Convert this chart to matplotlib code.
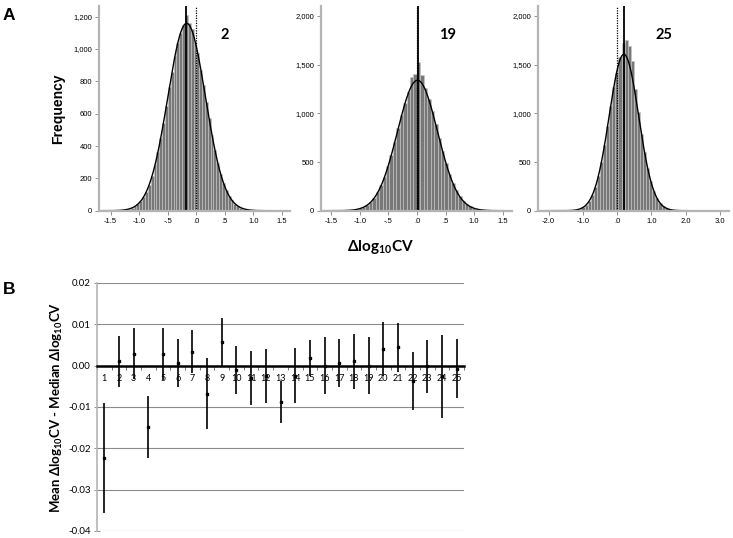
import numpy as np
import matplotlib.pyplot as plt

plt.rcParams['mathtext.fontset'] = 'custom'
plt.rcParams['mathtext.rm'] = 'Lato'
plt.rcParams['mathtext.bf'] = 'Lato:bold'

# ---- panel A: histograms of delta log10 CV (counts per bin) ----
hist_names = ['2', '19', '25']
hist_first_edge = [-1.30, -1.26, -1.40]
hist_bin_width = [0.05, 0.06, 0.09]
counts_2 = [4, 7, 11, 18, 27, 40, 59, 85, 118, 162,
            216, 282, 365, 448, 540, 650, 768, 860, 956, 1038,
            1102, 1150, 1210, 1160, 1125, 1045, 973, 872, 777, 671,
            574, 467, 376, 296, 228, 172, 126, 91, 64, 44,
            29, 19, 12, 8, 5]
counts_19 = [3, 5, 8, 14, 23, 36, 60, 92, 135, 190,
             262, 350, 455, 575, 705, 845, 980, 1105, 1220, 1375,
             1400, 1530, 1390, 1260, 1150, 1025, 890, 750, 615, 490,
             380, 288, 210, 148, 102, 68, 44, 28, 17, 10,
             6, 3]
counts_25 = [2, 5, 10, 18, 34, 59, 100, 160, 245, 360,
             505, 680, 875, 1075, 1270, 1410, 1580, 1720, 1750, 1690,
             1540, 1250, 1010, 790, 600, 437, 305, 204, 131, 80,
             46, 26, 14, 7, 4, 2, 1]
hist_counts = [counts_2, counts_19, counts_25]
mean_line = [-0.18, 0.01, 0.19]
zero_line = [0.0, 0.0, 0.0]
# normal curve overlay (as fitted in the original)
fit_mean = [-0.17, 0.01, 0.20]
fit_sd = [0.33, 0.35, 0.43]
fit_peak = [1159, 1340, 1607]

hist_xticks = [[-1.5, -1.0, -0.5, 0.0, 0.5, 1.0, 1.5],
               [-1.5, -1.0, -0.5, 0.0, 0.5, 1.0, 1.5],
               [-2.0, -1.0, 0.0, 1.0, 2.0, 3.0]]
hist_xticklabels = [['-1.5', '-1.0', '-.5', '.0', '.5', '1.0', '1.5'],
                    ['-1.5', '-1.0', '-.5', '.0', '.5', '1.0', '1.5'],
                    ['-2.0', '-1.0', '.0', '1.0', '2.0', '3.0']]
hist_yticks = [[0, 200, 400, 600, 800, 1000, 1200],
               [0, 500, 1000, 1500, 2000],
               [0, 500, 1000, 1500, 2000]]
hist_xlim = [(-1.705, 1.64), (-1.675, 1.66), (-2.31, 3.27)]
hist_ylim = [1266, 2103, 2103]
hist_left = [99, 321, 538]

# ---- panel B: mean minus median, with 95% CI ----
groups = list(range(1, 26))
mean_diff = [-0.0223, 0.0011, 0.0029, -0.0148, 0.0029, 0.0007, 0.0034, -0.0068, 0.0058, -0.0010,
             -0.0029, -0.0026, -0.0087, -0.0025, 0.0018, 0.0000, 0.0007, 0.0011, 0.0000, 0.0040,
             0.0044, -0.0038, -0.0002, -0.0026, -0.0007]
ci_low = [-0.0356, -0.0051, -0.0033, -0.0223, -0.0034, -0.0051, -0.0018, -0.0154, 0.0000, -0.0069,
          -0.0094, -0.0091, -0.0138, -0.0091, -0.0026, -0.0069, -0.0052, -0.0056, -0.0069, -0.0026,
          -0.0016, -0.0108, -0.0065, -0.0126, -0.0078]
ci_high = [-0.0090, 0.0072, 0.0091, -0.0073, 0.0092, 0.0065, 0.0086, 0.0019, 0.0116, 0.0048,
           0.0036, 0.0040, -0.0036, 0.0042, 0.0062, 0.0069, 0.0065, 0.0077, 0.0069, 0.0106,
           0.0104, 0.0032, 0.0062, 0.0074, 0.0065]
b_yticks = [-0.04, -0.03, -0.02, -0.01, 0.00, 0.01, 0.02]

W, H = 733, 538
fig = plt.figure(figsize=(W / 100, H / 100), dpi=100)
spine_gray = '#b4b4b4'

for i in range(3):
    counts = hist_counts[i]
    bw = hist_bin_width[i]
    edges = hist_first_edge[i] + bw * np.arange(len(counts) + 1)
    ax = fig.add_axes([hist_left[i] / W, 1 - 210.7 / H, 191 / W, 204.7 / H])
    ax.bar(edges[:-1], counts, width=bw, align='edge', color='#787878',
           edgecolor='#c8c8c8', linewidth=0.4)
    xs = np.linspace(hist_xlim[i][0], hist_xlim[i][1], 400)
    ax.plot(xs, fit_peak[i] * np.exp(-0.5 * ((xs - fit_mean[i]) / fit_sd[i]) ** 2),
            color='black', lw=1.0)
    ax.axvline(mean_line[i], color='black', lw=1.3)
    ax.axvline(zero_line[i], color='black', lw=0.9, ls=(0, (1, 1)))
    ax.set_xlim(*hist_xlim[i])
    ax.set_ylim(0, hist_ylim[i])
    ax.set_xticks(hist_xticks[i])
    ax.set_xticklabels(hist_xticklabels[i], fontsize=5.5, family='Liberation Sans')
    ax.set_yticks(hist_yticks[i])
    ax.set_yticklabels([f'{v:,}' for v in hist_yticks[i]], fontsize=5.5, family='Liberation Sans')
    ax.tick_params(length=3, width=0.6, color='#808080', pad=2)
    for s in ['top', 'right']:
        ax.spines[s].set_visible(False)
    for s in ['left', 'bottom']:
        ax.spines[s].set_color(spine_gray)
        ax.spines[s].set_linewidth(1.6)
    ax.text(0.66, 0.86, hist_names[i], transform=ax.transAxes, fontsize=10.5,
            fontweight='bold', family='Lato', ha='center', va='center')
    if i == 0:
        ax.set_ylabel('Frequency', fontsize=10, fontweight='bold',
                      family='Liberation Sans', labelpad=6)

fig.text(380 / W, 1 - 247 / H, r'Δlog$_{\mathbf{10}}$CV', fontsize=11, fontweight='bold',
         family=['Lato', 'DejaVu Sans'], ha='center', va='center')

# ---- panel B ----
axb = fig.add_axes([97 / W, 1 - 531 / H, 367 / W, 248 / H])
axb.set_xlim(0.5, 25.5)
axb.set_ylim(-0.04, 0.02)
axb.set_yticks(b_yticks)
axb.set_yticklabels([f'{v:.2f}' for v in b_yticks], fontsize=7, family='Lato')
axb.grid(axis='y', color='#8c8c8c', lw=0.8)
axb.set_axisbelow(True)
axb.vlines(groups, ci_low, ci_high, color='black', lw=1.2, zorder=3)
axb.plot(groups, mean_diff, 's', color='black', ms=1.6, zorder=4)
axb.spines['bottom'].set_position(('data', 0))
axb.spines['bottom'].set_color('black')
axb.spines['bottom'].set_linewidth(1.8)
axb.spines['bottom'].set_zorder(2.5)
axb.spines['left'].set_color(spine_gray)
axb.spines['left'].set_linewidth(1.2)
for s in ['top', 'right']:
    axb.spines[s].set_visible(False)
axb.set_xticks(np.arange(0.5, 26, 1.0))
axb.set_xticklabels([])
axb.set_xticks(groups, minor=True)
axb.set_xticklabels([str(g) for g in groups], minor=True, fontsize=6.5, family='Lato')
axb.tick_params(axis='x', which='major', length=3, width=0.6, color='#606060')
axb.tick_params(axis='x', which='minor', length=0, pad=6)
axb.tick_params(axis='y', direction='inout', length=5, width=0.6, color='#808080', pad=2)
axb.set_ylabel(r'Mean Δlog$_{\mathbf{10}}$CV - Median Δlog$_{\mathbf{10}}$CV', fontsize=9.5,
               fontweight='bold', family=['Lato', 'DejaVu Sans'], labelpad=2)

fig.text(3 / W, 1 - 8 / H, 'A', fontsize=12.5, fontweight='bold', family='Liberation Sans',
         ha='left', va='top')
fig.text(3 / W, 1 - 282 / H, 'B', fontsize=12.5, fontweight='bold', family='Liberation Sans',
         ha='left', va='top')

fig.savefig('out.png', dpi=100)
